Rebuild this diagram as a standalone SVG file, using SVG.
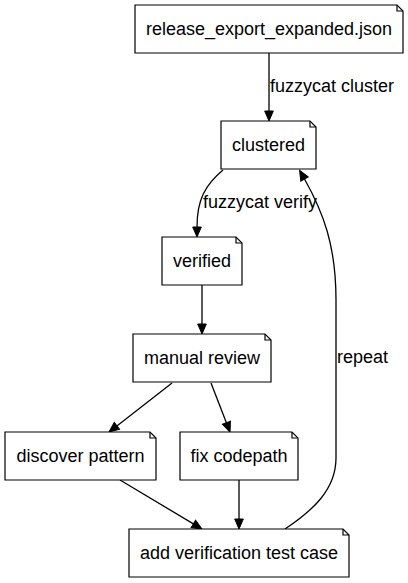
<svg xmlns="http://www.w3.org/2000/svg" width="408" height="583" viewBox="0 0 408 583">
<style>
.n{fill:#fff;stroke:#000;stroke-width:1.2}
.f{fill:none;stroke:#000;stroke-width:1.2}
.e{fill:none;stroke:#000;stroke-width:1.3;marker-end:url(#ah)}
text{font-family:"Liberation Sans",Arial,sans-serif;font-size:18px;fill:#000}
.c{text-anchor:middle}
</style>
<defs>
<marker id="ah" markerUnits="userSpaceOnUse" viewBox="0 -5 10 10" refX="0" refY="0" markerWidth="10" markerHeight="10" orient="auto" overflow="visible">
<path d="M0,-4.3 L10,0 L0,4.3 z" fill="#000" stroke="#000" stroke-width="1"/>
</marker>
</defs>
<rect width="408" height="583" fill="#fff"/>
<g id="edges">
<path class="e" d="M269,53 L269,111"/>
<text x="270" y="92">fuzzycat cluster</text>
<path class="e" d="M223,170 C205,185 197,200 197,227"/>
<text x="203" y="208">fuzzycat verify</text>
<path class="e" d="M202,285 L202,324"/>
<path class="e" d="M172,383 L116.9,425.9"/>
<path class="e" d="M211,383 L226.4,422.7"/>
<path class="e" d="M120,480 L193.4,523.9"/>
<path class="e" d="M239,480 L239,519"/>
<path class="e" d="M285,529 C312,511 336,490 336,458 L336,300 C336,245 323,212 304.5,179"/>
<text x="337" y="363">repeat</text>
</g>
<g id="n1">
<path class="n" d="M135,5 H397 L403,11 V53 H135 Z"/>
<path class="f" d="M397,5 V11 H403"/>
<text class="c" x="269" y="35">release_export_expanded.json</text>
</g>
<g id="n2">
<path class="n" d="M221,121 H310 L316,127 V169 H221 Z"/>
<path class="f" d="M310,121 V127 H316"/>
<text class="c" x="268.5" y="151">clustered</text>
</g>
<g id="n3">
<path class="n" d="M162,237 H236 L242,243 V285 H162 Z"/>
<path class="f" d="M236,237 V243 H242"/>
<text class="c" x="202" y="267">verified</text>
</g>
<g id="n4">
<path class="n" d="M133,334 H265 L271,340 V382 H133 Z"/>
<path class="f" d="M265,334 V340 H271"/>
<text class="c" x="202" y="364">manual review</text>
</g>
<g id="n5">
<path class="n" d="M5,432 H150 L156,438 V480 H5 Z"/>
<path class="f" d="M150,432 V438 H156"/>
<text class="c" x="80.5" y="462">discover pattern</text>
</g>
<g id="n6">
<path class="n" d="M180,432 H292 L298,438 V480 H180 Z"/>
<path class="f" d="M292,432 V438 H298"/>
<text class="c" x="239" y="462">fix codepath</text>
</g>
<g id="n7">
<path class="n" d="M129,529 H343 L349,535 V577 H129 Z"/>
<path class="f" d="M343,529 V535 H349"/>
<text class="c" x="239" y="559">add verification test case</text>
</g>
</svg>
